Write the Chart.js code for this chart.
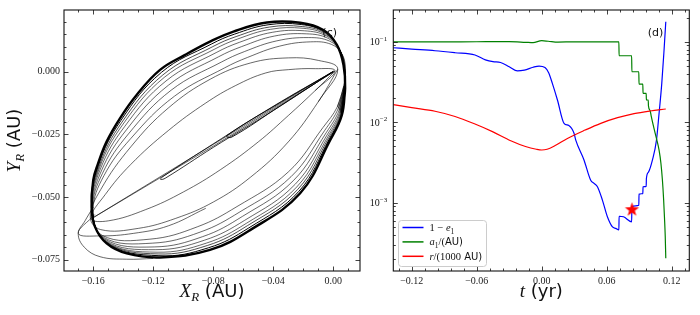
<!DOCTYPE html>
<html>
<head>
<meta charset="utf-8">
<script src="https://cdn.jsdelivr.net/npm/chart.js@4.4.1/dist/chart.umd.min.js"></script>
<style>
  body { margin: 0; background: #fff; width: 700px; height: 315px; overflow: hidden; position: relative; }
  canvas { position: absolute; top: 0; }
  #orbit { left: 0; }
  #evo { left: 364px; }
</style>
</head>
<body>
<canvas id="orbit" width="372" height="315"></canvas>
<canvas id="evo" width="336" height="315"></canvas>
<script>
// ---- panel (c): relative orbit [X_R, Y_R] in AU
const orbitOuter = [[0.0079,-0.0066],[0.0068,0.0027],[0.0024,0.0107],[-0.0066,0.0166],[-0.0221,0.0195],[-0.0443,0.0196],
  [-0.0666,0.0160],[-0.0822,0.0120],[-0.0988,0.0067],[-0.1155,0.0007],[-0.1311,-0.0093],[-0.1422,-0.0186],[-0.1511,-0.0279],
  [-0.1570,-0.0370],[-0.1600,-0.0432],[-0.1611,-0.0539],[-0.1589,-0.0618],[-0.1511,-0.0685],[-0.1377,-0.0725],[-0.1155,-0.0741],
  [-0.0822,-0.0711],[-0.0555,-0.0632],[-0.0221,-0.0485],[-0.0021,-0.0273],[0.0057,-0.0173]];
const orbitRing1 = [[0.0078,-0.0065],[0.0069,0.0026],[0.0027,0.0104],[-0.0061,0.0160],[-0.0214,0.0188],[-0.0435,0.0187],[-0.0657,0.0150],
  [-0.0813,0.0110],[-0.1146,-0.0003],[-0.1415,-0.0194],[-0.1566,-0.0374],[-0.1610,-0.0540],[-0.1514,-0.0682],[-0.1162,-0.0734],
  [-0.0830,-0.0702],[-0.0563,-0.0623],[-0.0229,-0.0477],[-0.0026,-0.0268],[0.0054,-0.0170]];
const orbitRing2 = [[0.0077,-0.0064],[0.0070,0.0024],[0.0030,0.0100],[-0.0056,0.0155],[-0.0207,0.0180],[-0.0426,0.0178],[-0.0648,0.0140],
  [-0.0803,0.0100],[-0.1136,-0.0013],[-0.1408,-0.0201],[-0.1562,-0.0379],[-0.1609,-0.0541],[-0.1517,-0.0679],[-0.1168,-0.0727],
  [-0.0838,-0.0693],[-0.0572,-0.0614],[-0.0236,-0.0469],[-0.0030,-0.0263],[0.0051,-0.0167]];
const orbitRing3 = [[0.0076,-0.0063],[0.0072,0.0023],[0.0034,0.0097],[-0.0051,0.0149],[-0.0201,0.0173],[-0.0418,0.0169],[-0.0639,0.0130],
  [-0.0794,0.0089],[-0.1127,-0.0023],[-0.1401,-0.0209],[-0.1558,-0.0383],[-0.1608,-0.0542],[-0.1520,-0.0676],[-0.1175,-0.0720],
  [-0.0847,-0.0684],[-0.0580,-0.0605],[-0.0244,-0.0460],[-0.0035,-0.0258],[0.0048,-0.0163]];
const orbitRing4 = [[0.0075,-0.0062],[0.0073,0.0021],[0.0038,0.0092],[-0.0044,0.0142],[-0.0192,0.0163],[-0.0407,0.0157],[-0.0626,0.0117],
  [-0.0781,0.0076],[-0.1115,-0.0037],[-0.1391,-0.0219],[-0.1553,-0.0389],[-0.1607,-0.0543],[-0.1523,-0.0672],[-0.1183,-0.0710],
  [-0.0858,-0.0672],[-0.0591,-0.0593],[-0.0254,-0.0449],[-0.0041,-0.0252],[0.0044,-0.0159]];
const orbitRing5 = [[0.0074,-0.0061],[0.0075,0.0019],[0.0043,0.0086],[-0.0035,0.0133],[-0.0180,0.0151],[-0.0393,0.0142],[-0.0611,0.0100],
  [-0.0766,0.0059],[-0.1099,-0.0054],[-0.1379,-0.0232],[-0.1546,-0.0396],[-0.1605,-0.0545],[-0.1528,-0.0666],[-0.1194,-0.0699],
  [-0.0871,-0.0658],[-0.0605,-0.0577],[-0.0267,-0.0435],[-0.0048,-0.0244],[0.0039,-0.0154]];
const orbitRing6 = [[0.0072,-0.0059],[0.0078,0.0016],[0.0050,0.0079],[-0.0025,0.0122],[-0.0167,0.0136],[-0.0376,0.0123],[-0.0593,0.0080],
  [-0.0747,0.0038],[-0.1081,-0.0074],[-0.1365,-0.0248],[-0.1538,-0.0405],[-0.1604,-0.0547],[-0.1534,-0.0660],[-0.1207,-0.0684],
  [-0.0888,-0.0640],[-0.0622,-0.0559],[-0.0282,-0.0419],[-0.0057,-0.0234],[0.0033,-0.0147]];
const orbitRing7 = [[0.0070,-0.0057],[0.0081,0.0013],[0.0057,0.0071],[-0.0013,0.0109],[-0.0151,0.0119],[-0.0357,0.0102],[-0.0571,0.0057],
  [-0.0725,0.0015],[-0.1059,-0.0098],[-0.1349,-0.0266],[-0.1529,-0.0415],[-0.1601,-0.0550],[-0.1540,-0.0653],[-0.1222,-0.0668],
  [-0.0907,-0.0619],[-0.0642,-0.0538],[-0.0300,-0.0400],[-0.0068,-0.0222],[0.0027,-0.0140]];
const orbitMid1 = [[0.0012,0.0003],[-0.012,0.0012],[-0.030,0.0008],[-0.045,-0.0005],[-0.065,-0.0055],[-0.085,-0.0125],[-0.110,-0.0235],
  [-0.135,-0.0370],[-0.152,-0.0490],[-0.1615,-0.0585],[-0.150,-0.0595],[-0.125,-0.0550],[-0.100,-0.0480],[-0.075,-0.0390],
  [-0.050,-0.0280],[-0.030,-0.0175],[-0.012,-0.0075]];
const orbitMid2 = [[0.0030,0.0010],[-0.010,0.0045],[-0.030,0.0055],[-0.055,0.0035],[-0.082,-0.0030],[-0.110,-0.0145],[-0.135,-0.0300],
  [-0.155,-0.0470],[-0.162,-0.0580],[-0.155,-0.0630],[-0.130,-0.0625],[-0.105,-0.0585],[-0.080,-0.0520],[-0.055,-0.0420],
  [-0.030,-0.0280],[-0.010,-0.0120]];
const spindleLong = [[0.0004,0.0003],[-0.080,-0.0290],[-0.160,-0.0582],[-0.080,-0.0297],[0.0,-0.0002]];
const spindleMid = [[0.0,0.0001],[-0.040,-0.0138],[-0.080,-0.0288],[-0.1144,-0.0422],[-0.1150,-0.0430],[-0.112,-0.0425],
  [-0.080,-0.0302],[-0.040,-0.0155],[0.0,0.0001]];
const spindleShort = [[0.0,0.0],[-0.035,-0.0122],[-0.071,-0.0255],[-0.068,-0.0262],[-0.035,-0.0135],[0.0,0.0]];
const loopLeft1 = [[-0.1600,-0.0540],[-0.1655,-0.0595],[-0.1700,-0.0645],[-0.1660,-0.0700],[-0.1555,-0.0738],[-0.1377,-0.0748],[-0.1200,-0.0745]];
const loopLeft2 = [[-0.1590,-0.0570],[-0.1700,-0.0645],[-0.1555,-0.0655],[-0.1333,-0.0645],[-0.1100,-0.0615],[-0.0850,-0.0545]];

const orbitXTicks = [-0.16, -0.12, -0.08, -0.04, 0.00];
const orbitXMinor = [-0.17,-0.15,-0.14,-0.13,-0.11,-0.10,-0.09,-0.07,-0.06,-0.05,-0.03,-0.02,-0.01,0.01];
const orbitYTicks = [0.000, -0.025, -0.050, -0.075];
const orbitYMinor = [0.020,0.015,0.010,0.005,-0.005,-0.010,-0.015,-0.020,-0.030,-0.035,-0.040,-0.045,-0.055,-0.060,-0.065,-0.070];

// ---- panel (d): evolution vs time [t (yr), value]
const oneMinusE = [[-0.137,0.0842],[-0.12,0.081],[-0.0985,0.0773],[-0.08,0.0730],[-0.0616,0.0684],[-0.052,0.0595],[-0.045,0.0565],
  [-0.038,0.0553],[-0.030,0.0490],[-0.0224,0.0435],[-0.016,0.0445],[-0.008,0.0482],[-0.0025,0.0499],[0.003,0.0478],[0.0065,0.0410],
  [0.0098,0.0304],[0.0145,0.0189],[0.0206,0.0097],[0.025,0.0091],[0.0298,0.0073],[0.0314,0.0060],[0.039,0.0034],[0.0452,0.0019],
  [0.0483,0.00174],[0.0514,0.00158],[0.056,0.00108],[0.0606,0.00067],[0.0653,0.00050],[0.0683,0.00048],[0.0712,0.00046],
  [0.0714,0.00068],[0.0755,0.00067],[0.0830,0.00058],[0.0832,0.00089],[0.0896,0.00093],[0.0898,0.00128],[0.0933,0.00130],
  [0.0935,0.00158],[0.0964,0.00160],[0.0966,0.0020],[0.0985,0.0024],[0.1022,0.0034],[0.1059,0.0060],[0.1083,0.0129],
  [0.1108,0.0304],[0.1129,0.079],[0.1145,0.177]];
const aInner = [[-0.137,0.0995],[-0.10,0.0995],[-0.06,0.1000],[-0.03,0.1003],[-0.015,0.0985],[-0.008,0.0975],[0.0,0.1030],
  [0.006,0.1015],[0.015,0.0990],[0.03,0.0998],[0.05,0.0995],[0.0712,0.0995],[0.0714,0.0670],[0.0830,0.0670],[0.0832,0.0424],
  [0.0896,0.0424],[0.0898,0.0298],[0.0933,0.0298],[0.0935,0.0229],[0.0964,0.0229],[0.0966,0.0189],[0.0983,0.0189],
  [0.0985,0.0160],[0.1000,0.0140],[0.1010,0.0120],[0.1035,0.0085],[0.1060,0.0062],[0.1083,0.0045],[0.1100,0.0031],
  [0.1114,0.0019],[0.1125,0.0011],[0.1133,0.00065],[0.1140,0.00038],[0.1145,0.000204]];
const rDist = [[-0.137,0.0166],[-0.12,0.0152],[-0.0985,0.0137],[-0.08,0.0118],[-0.0616,0.0095],[-0.045,0.0076],[-0.0286,0.0059],
  [-0.015,0.0050],[-0.005,0.00462],[0.0,0.00452],[0.005,0.00462],[0.012,0.0051],[0.0237,0.0063],[0.04,0.0080],[0.0545,0.0097],
  [0.07,0.0114],[0.0852,0.0128],[0.10,0.0138],[0.1145,0.0146]];
const starPoint = [[0.0833,0.00082]];

const evoXTicks = [-0.12, -0.06, 0.00, 0.06, 0.12];
const evoXMinor = [-0.132,-0.108,-0.096,-0.084,-0.072,-0.048,-0.036,-0.024,-0.012,0.012,0.024,0.036,0.048,0.072,0.084,0.096,0.108,0.132];
const evoYTicks = [1e-3, 1e-2, 1e-1];
const evoYMinor = [2e-4,3e-4,4e-4,5e-4,6e-4,7e-4,8e-4,9e-4,2e-3,3e-3,4e-3,5e-3,6e-3,7e-3,8e-3,9e-3,
  2e-2,3e-2,4e-2,5e-2,6e-2,7e-2,8e-2,9e-2,2e-1];

const SERIF = '"Liberation Serif", "DejaVu Serif", serif';
const SANS = '"DejaVu Sans", sans-serif';

function fmt(v, d) {
  if (Math.abs(v) < 1e-9) v = 0;
  return v.toFixed(d).replace('-', '\u2212');
}
const xy = pts => pts.map(([x, y]) => ({x, y}));
const closed = pts => xy([pts[pts.length - 1], ...pts, pts[0]]);

function drawRich(ctx, segs, x, y) {
  segs.forEach(s => {
    ctx.font = s.font;
    ctx.fillText(s.text, x, y + (s.dy || 0));
    x += ctx.measureText(s.text).width;
  });
}
function richWidth(ctx, segs) {
  let w = 0;
  segs.forEach(s => { ctx.font = s.font; w += ctx.measureText(s.text).width; });
  return w;
}

const decor = {
  id: 'decor',
  afterDatasetsDraw(chart, args, o) {
    const {ctx, chartArea: a} = chart;
    const sx = chart.scales.x, sy = chart.scales.y;
    ctx.save();
    ctx.strokeStyle = '#111';
    ctx.lineWidth = 0.8;
    const mark = (sc, vals, len) => {
      ctx.beginPath();
      vals.forEach(v => {
        if (v < sc.min || v > sc.max) return;
        const p = Math.round(sc.getPixelForValue(v)) + 0.5;
        if (sc.isHorizontal()) {
          ctx.moveTo(p, a.bottom); ctx.lineTo(p, a.bottom - len);
          ctx.moveTo(p, a.top); ctx.lineTo(p, a.top + len);
        } else {
          ctx.moveTo(a.left, p); ctx.lineTo(a.left + len, p);
          ctx.moveTo(a.right, p); ctx.lineTo(a.right - len, p);
        }
      });
      ctx.stroke();
    };
    mark(sx, o.xMajor, 4.5); mark(sx, o.xMinor, 2.5);
    mark(sy, o.yMajor, 4.5); mark(sy, o.yMinor, 2.5);
    ctx.lineWidth = 1.1;
    ctx.strokeRect(a.left, a.top, a.width, a.height);

    ctx.fillStyle = '#111';
    // log tick labels 10^n
    if (o.logLabels) {
      o.yMajor.forEach(v => {
        const p = sy.getPixelForValue(v);
        const segs = [{text: '10', font: `10px ${SERIF}`}, {text: '\u2212' + Math.round(-Math.log10(v)), font: `7px ${SERIF}`, dy: -4.5}];
        ctx.textBaseline = 'alphabetic';
        drawRich(ctx, segs, a.left - 6 - richWidth(ctx, segs), p + 3.5);
      });
    }
    // panel label
    ctx.font = `11px ${SANS}`;
    ctx.textAlign = 'right';
    ctx.textBaseline = 'middle';
    ctx.fillText(o.panel, a.right - o.panelDx, a.top + 23);
    ctx.textAlign = 'left';
    ctx.textBaseline = 'alphabetic';
    // axis titles
    const xw = richWidth(ctx, o.xTitle);
    drawRich(ctx, o.xTitle, (a.left + a.right) / 2 - xw / 2, 297);
    if (o.yTitle) {
      const yw = richWidth(ctx, o.yTitle);
      ctx.save();
      ctx.translate(20, (a.top + a.bottom) / 2);
      ctx.rotate(-Math.PI / 2);
      drawRich(ctx, o.yTitle, -yw / 2, 0);
      ctx.restore();
    }
    // legend
    if (o.legend) {
      const L = o.legend;
      ctx.beginPath();
      ctx.roundRect(L.x, L.y, L.w, L.h, 3);
      ctx.fillStyle = 'rgba(255,255,255,0.85)';
      ctx.fill();
      ctx.strokeStyle = '#cccccc';
      ctx.lineWidth = 1;
      ctx.stroke();
      L.items.forEach((it, i) => {
        const ds = chart.data.datasets[it.ds];
        const yy = L.y + 7 + i * 14.4;
        ctx.strokeStyle = ds.borderColor;
        ctx.lineWidth = 1.5;
        ctx.beginPath(); ctx.moveTo(L.x + 4, yy); ctx.lineTo(L.x + 25, yy); ctx.stroke();
        ctx.fillStyle = '#111';
        drawRich(ctx, it.segs, L.x + 31, yy + 3.5);
      });
    }
    ctx.restore();
  }
};

const ringStyle = (data, w) => ({data, showLine: true, borderColor: '#000', borderWidth: w, pointRadius: 0, tension: 0.4, fill: false});

new Chart(document.getElementById('orbit'), {
  type: 'scatter',
  data: {
    datasets: [
      ringStyle(closed(orbitOuter), 2.4),
      ringStyle(closed(orbitRing1), 1.0),
      ringStyle(closed(orbitRing2), 0.7),
      ringStyle(closed(orbitRing3), 0.6),
      ringStyle(closed(orbitRing4), 0.6),
      ringStyle(closed(orbitRing5), 0.6),
      ringStyle(closed(orbitRing6), 0.6),
      ringStyle(closed(orbitRing7), 0.6),
      ringStyle(closed(orbitMid1), 0.6),
      ringStyle(closed(orbitMid2), 0.6),
      {...ringStyle(xy(spindleLong), 0.6), tension: 0},
      ringStyle(xy(spindleMid), 0.8),
      ringStyle(xy(spindleShort), 0.9),
      ringStyle(xy(loopLeft1), 0.6),
      ringStyle(xy(loopLeft2), 0.6)
    ]
  },
  options: {
    responsive: false,
    animation: false,
    devicePixelRatio: 1,
    layout: {padding: {left: 0, right: 12, top: 10, bottom: 0}},
    scales: {
      x: {
        type: 'linear', min: -0.1795, max: 0.0178,
        afterBuildTicks: s => { s.ticks = orbitXTicks.map(v => ({value: v})); },
        afterFit: s => { s.height = 44; },
        grid: {display: false, drawTicks: false}, border: {display: false},
        ticks: {padding: 4, maxRotation: 0, autoSkip: false, color: '#222', font: {family: SERIF, size: 10}, callback: v => fmt(v, 2)}
      },
      y: {
        type: 'linear', min: -0.0795, max: 0.0246,
        afterBuildTicks: s => { s.ticks = orbitYTicks.map(v => ({value: v})); },
        afterFit: s => { s.width = 64; },
        grid: {display: false, drawTicks: false}, border: {display: false},
        ticks: {padding: 4, autoSkip: false, color: '#222', font: {family: SERIF, size: 10}, callback: v => fmt(v, 3)}
      }
    },
    plugins: {
      legend: {display: false},
      tooltip: {enabled: false},
      decor: {
        xMajor: orbitXTicks, xMinor: orbitXMinor, yMajor: orbitYTicks, yMinor: orbitYMinor,
        panel: '(c)', panelDx: 23,
        xTitle: [{text: 'X', font: `italic 19px ${SERIF}`}, {text: 'R', font: `italic 13px ${SERIF}`, dy: 4}, {text: ' (AU)', font: `18px ${SANS}`}],
        yTitle: [{text: 'Y', font: `italic 19px ${SERIF}`}, {text: 'R', font: `italic 13px ${SERIF}`, dy: 4}, {text: ' (AU)', font: `18px ${SANS}`}]
      }
    }
  },
  plugins: [decor]
});

function starImage(r) {
  const c = document.createElement('canvas');
  const s = Math.ceil(2 * r + 2);
  c.width = c.height = s;
  const g = c.getContext('2d');
  g.beginPath();
  for (let i = 0; i < 10; i++) {
    const rad = i % 2 ? r * 0.4 : r;
    const ang = -Math.PI / 2 + i * Math.PI / 5;
    g.lineTo(s / 2 + rad * Math.cos(ang), s / 2 + rad * Math.sin(ang));
  }
  g.closePath();
  g.fillStyle = '#ff0000';
  g.fill();
  return c;
}

const lineStyle = (label, data, color, order) => ({label, data, borderColor: color, borderWidth: 1.2, pointRadius: 0, fill: false, cubicInterpolationMode: 'monotone', order});

new Chart(document.getElementById('evo'), {
  type: 'line',
  data: {
    datasets: [
      lineStyle('1 \u2212 e1', xy(oneMinusE), '#0000ff', 3),
      lineStyle('a1/(AU)', xy(aInner), '#008000', 2),
      lineStyle('r/(1000 AU)', xy(rDist), '#ff0000', 1),
      {label: 'star', data: xy(starPoint), showLine: false, pointStyle: starImage(7.5), pointRadius: 8, order: 0}
    ]
  },
  options: {
    responsive: false,
    animation: false,
    devicePixelRatio: 1,
    layout: {padding: {left: 0, right: 10.7, top: 10, bottom: 0}},
    scales: {
      x: {
        type: 'linear', min: -0.137, max: 0.1362,
        afterBuildTicks: s => { s.ticks = evoXTicks.map(v => ({value: v})); },
        afterFit: s => { s.height = 44; },
        grid: {display: false, drawTicks: false}, border: {display: false},
        ticks: {padding: 4, maxRotation: 0, autoSkip: false, color: '#222', font: {family: SERIF, size: 10}, callback: v => fmt(v, 2)}
      },
      y: {
        type: 'logarithmic', min: 1.42e-4, max: 0.248,
        afterBuildTicks: s => { s.ticks = evoYTicks.map(v => ({value: v})); },
        afterFit: s => { s.width = 29.3; },
        grid: {display: false, drawTicks: false}, border: {display: false},
        ticks: {display: false}
      }
    },
    plugins: {
      legend: {display: false},
      tooltip: {enabled: false},
      decor: {
        xMajor: evoXTicks, xMinor: evoXMinor, yMajor: evoYTicks, yMinor: evoYMinor,
        logLabels: true,
        panel: '(d)', panelDx: 26,
        xTitle: [{text: 't', font: `italic 19px ${SERIF}`}, {text: ' (yr)', font: `18px ${SANS}`}],
        legend: {
          x: 34.5, y: 220.5, w: 88, h: 46,
          items: [
            {ds: 0, segs: [{text: '1 \u2212 ', font: `10.5px ${SERIF}`}, {text: 'e', font: `italic 10.5px ${SERIF}`}, {text: '1', font: `7.5px ${SERIF}`, dy: 2.5}]},
            {ds: 1, segs: [{text: 'a', font: `italic 10.5px ${SERIF}`}, {text: '1', font: `7.5px ${SERIF}`, dy: 2.5}, {text: '/(', font: `10.5px ${SERIF}`}, {text: 'AU)', font: `10px ${SANS}`}]},
            {ds: 2, segs: [{text: 'r', font: `italic 10.5px ${SERIF}`}, {text: '/(1000', font: `10.5px ${SERIF}`}, {text: ' AU)', font: `10px ${SANS}`}]}
          ]
        }
      }
    }
  },
  plugins: [decor]
});
</script>
</body>
</html>
